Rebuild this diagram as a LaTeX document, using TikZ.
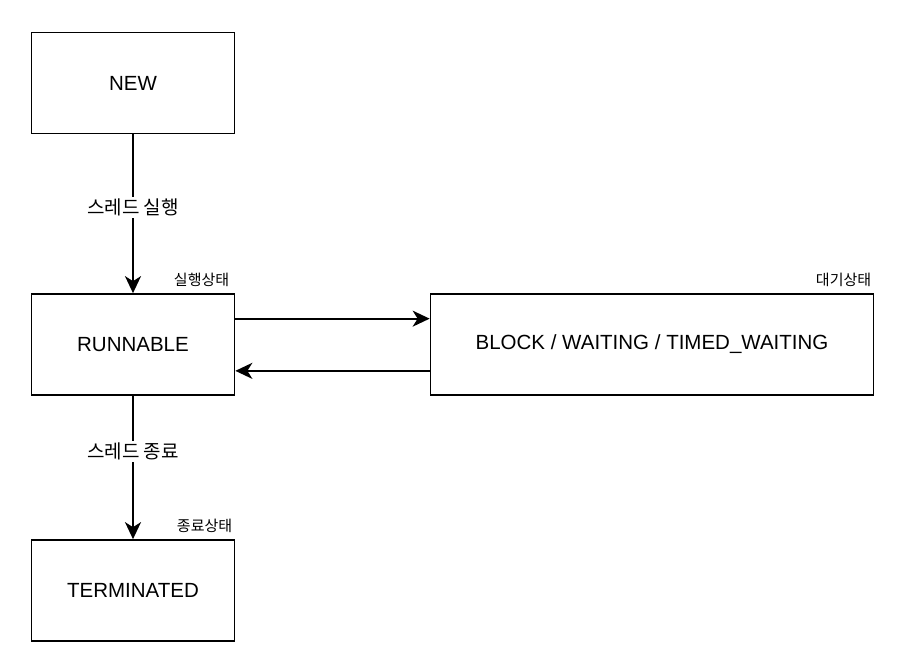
\documentclass[tikz,border=0pt]{standalone}
\usepackage{fontspec}
\setmainfont{Liberation Sans}
\newfontfamily\kr{Noto Sans CJK KR}
\usetikzlibrary{arrows.meta}
\begin{document}
\begin{tikzpicture}[x=1pt,y=-1pt,
  state/.style={draw=black,line width=1.7pt,minimum height=101pt,inner sep=0pt,font=\fontsize{20.5}{24}\selectfont},
  flow/.style={line width=2pt,-{Stealth[length=17pt,width=16pt,inset=5pt]}},
  elabel/.style={fill=white,inner sep=2pt,font=\kr\fontsize{19}{22}\selectfont},
  tag/.style={inner sep=0pt,font=\kr\fontsize{15}{18}\selectfont}]
\useasboundingbox (0,0) rectangle (908,664);
\node[state,minimum width=203pt] (new) at (133,83) {NEW};
\node[state,minimum width=203pt] (run) at (133,344.5) {RUNNABLE};
\node[state,minimum width=443pt] (blk) at (652,344.5) {BLOCK / WAITING / TIMED\_WAITING};
\node[state,minimum width=203pt] (term) at (133,590.5) {TERMINATED};
\draw[flow] (new.south) -- node[elabel,pos=0.46] {스레드 실행} (run.north);
\draw[flow] (run.south) -- node[elabel,pos=0.39] {스레드 종료} (term.north);
\draw[flow] ([yshift=-25.5pt]run.north east) -- ([yshift=-25.5pt]blk.north west);
\draw[flow] ([yshift=25pt]blk.south west) -- ([yshift=25pt]run.south east);
\node[tag,anchor=south east] (t1) at ([xshift=-6pt,yshift=6pt]run.north east) {실행상태};
\node[tag,anchor=south east] (t2) at ([xshift=-3pt,yshift=6pt]blk.north east) {대기상태};
\node[tag,anchor=south east] (t3) at ([xshift=-3pt,yshift=6pt]term.north east) {종료상태};
\end{tikzpicture}
\end{document}
